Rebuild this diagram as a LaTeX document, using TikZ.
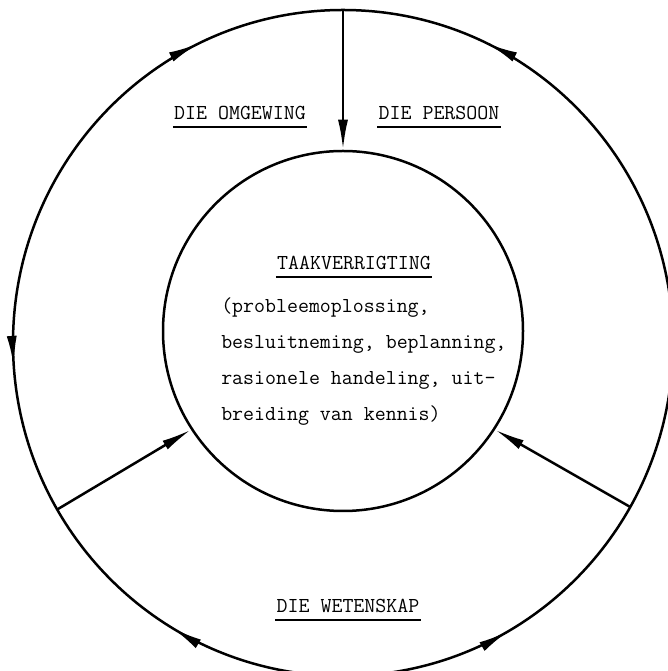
\documentclass[tikz,border=0pt]{standalone}
\usepackage{fontspec}
\usetikzlibrary{arrows.meta,decorations.markings}

\begin{document}
\begin{tikzpicture}[x=1pt,y=1pt,line width=2.5pt,
    font=\ttfamily\fontsize{21.3}{36}\selectfont]
    \tikzset{
        tip/.style={-{Latex[length=30pt,width=10pt]}},
        heading/.style={anchor=base,inner sep=0pt},
        uline/.style={line width=1.5pt},
        ring/.style={
            postaction={decorate},
            decoration={
                markings,
                mark=at position 0.178 with {\arrow{Latex[length=30pt,width=10pt]}},
                mark=at position 0.322 with {\arrowreversed{Latex[length=30pt,width=10pt]}},
                mark=at position 0.511 with {\arrow{Latex[length=30pt,width=10pt]}},
                mark=at position 0.664 with {\arrowreversed{Latex[length=30pt,width=10pt]}},
                mark=at position 0.833 with {\arrow{Latex[length=30pt,width=10pt]}}
            }
        }
    }
    \useasboundingbox (0,0) rectangle (668,671);

    \coordinate (oc) at (343,328);
    \draw[ring] (oc) ellipse [x radius=330, y radius=333];
    \node[circle,draw,minimum size=360pt,inner sep=0pt] (core) at (343,340) {};

    \coordinate (top) at ([shift={(90:330 and 333)}] oc);
    \coordinate (left) at ([shift={(210:330 and 333)}] oc);
    \coordinate (right) at ([shift={(-29.5:330 and 333)}] oc);

    \draw[tip] (top) -- (core.north);
    \draw[tip] (left) -- (core.213);
    \draw[tip] (right) -- (core.-33);

    \node[heading] (omg) at (240,551) {DIE OMGEWING};
    \node[heading] (per) at (439,551) {DIE PERSOON};
    \node[heading] (taak) at (354,401) {TAAKVERRIGTING};
    \node[heading] (wet) at (348,58) {DIE WETENSKAP};
    \node[anchor=north west,align=left,inner sep=0pt] (taken) at (220,375)
        {(probleemoplossing,\\besluitneming, beplanning,\\rasionele handeling, uit-\\breiding van kennis)};

    % underlines
    \foreach \n in {omg,per,taak,wet}
        \draw[uline] ([yshift=-7pt] \n.base west) -- ([yshift=-7pt] \n.base east);
\end{tikzpicture}
\end{document}
